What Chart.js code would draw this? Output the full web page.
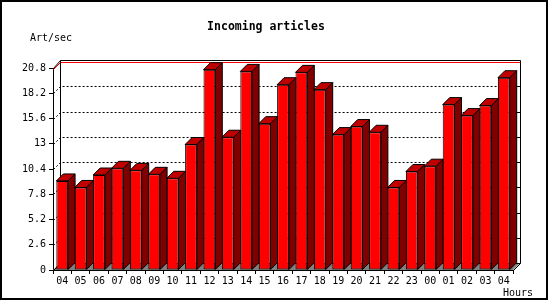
<!DOCTYPE html>
<html><head><meta charset="utf-8">
<script src="https://cdn.jsdelivr.net/npm/chart.js@4"></script>
<style>html,body{margin:0;padding:0;background:#fff;} canvas{display:block;background:#fff;}</style>
</head><body>
<canvas id="c" width="550" height="300"></canvas>
<script>
const hours = ['04','05','06','07','08','09','10','11','12','13','14','15','16','17','18','19','20','21','22','23','00','01','02','03','04'];
const artPerSec = [9.17, 8.5, 9.78, 10.47, 10.26, 9.85, 9.44, 12.92, 20.63, 13.67, 20.45, 15.07, 19.08, 20.35, 18.57, 13.94, 14.77, 14.18, 8.5, 10.14, 10.69, 17.03, 15.9, 16.93, 19.8];
const yTickValues = [0, 2.6, 5.2, 7.8, 10.4, 13, 15.6, 18.2, 20.8];
const yTickLabels = ['0', '2.6', '5.2', '7.8', '10.4', '13', '15.6', '18.2', '20.8'];
const chartTitle = 'Incoming articles';
const yAxisName = 'Art/sec';
const xAxisName = 'Hours';

const DEPTH = 7;
const MONO = "'DejaVu Sans Mono', 'Liberation Mono', monospace";

const bar3d = {
  id: 'bar3d',
  beforeDatasetsDraw(chart) {
    const ctx = chart.ctx, ca = chart.chartArea, ys = chart.scales.y;
    const L = Math.round(ca.left), R = Math.round(ca.right), B = Math.round(ca.bottom);
    const bl = L + DEPTH, br = R + DEPTH, bb = B - DEPTH;
    const topF = Math.round(ys.getPixelForValue(ys.max));
    const bt = topF - DEPTH - 1;
    ctx.save();
    // floor
    ctx.fillStyle = '#808080';
    ctx.beginPath(); ctx.moveTo(L, B); ctx.lineTo(R, B); ctx.lineTo(br, bb); ctx.lineTo(bl, bb); ctx.closePath(); ctx.fill();
    ctx.lineWidth = 1;
    // gridlines on back wall
    yTickValues.forEach((v) => {
      if (v === ys.min || v === ys.max) return;
      const yf = Math.round(ys.getPixelForValue(v));
      const yb = yf - DEPTH;
      ctx.strokeStyle = '#000';
      ctx.setLineDash([2, 2]);
      ctx.beginPath(); ctx.moveTo(L + 0.5, yf + 0.5); ctx.lineTo(bl + 0.5, yb + 0.5); ctx.lineTo(br - 3, yb + 0.5); ctx.stroke();
      ctx.setLineDash([]);
      ctx.beginPath(); ctx.moveTo(br - 4, yb + 0.5); ctx.lineTo(br, yb + 0.5); ctx.stroke();
    });
    // max line (red)
    ctx.strokeStyle = '#ff0000';
    ctx.beginPath(); ctx.moveTo(L + 0.5, topF + 1.5); ctx.lineTo(bl + 0.5, topF - DEPTH + 1.5); ctx.lineTo(br, topF - DEPTH + 1.5); ctx.stroke();
    // back frame
    ctx.strokeStyle = '#000';
    ctx.beginPath();
    ctx.moveTo(bl + 0.5, bb + 0.5); ctx.lineTo(bl + 0.5, bt + 0.5); ctx.lineTo(br + 0.5, bt + 0.5); ctx.lineTo(br + 0.5, bb + 0.5); ctx.lineTo(bl + 0.5, bb + 0.5);
    ctx.stroke();
    // depth diagonals
    ctx.beginPath();
    ctx.moveTo(L + 0.5, topF + 0.5); ctx.lineTo(bl + 0.5, bt + 0.5);
    ctx.moveTo(L + 0.5, B + 0.5); ctx.lineTo(bl + 0.5, bb + 0.5);
    ctx.moveTo(R + 0.5, B + 0.5); ctx.lineTo(br + 0.5, bb + 0.5);
    ctx.stroke();
    ctx.restore();
  },
  afterDatasetsDraw(chart) {
    const ctx = chart.ctx;
    const meta = chart.getDatasetMeta(0);
    ctx.save();
    ctx.lineWidth = 1;
    ctx.strokeStyle = '#000';
    meta.data.forEach((bar) => {
      const p = bar.getProps(['x', 'y', 'base', 'width'], true);
      const x1 = p.x - p.width / 2, x2 = p.x + p.width / 2;
      const y = p.y, b = p.base;
      // side face
      ctx.fillStyle = '#800000';
      ctx.beginPath();
      ctx.moveTo(x2, y); ctx.lineTo(x2 + DEPTH, y - DEPTH); ctx.lineTo(x2 + DEPTH, b - DEPTH); ctx.lineTo(x2, b); ctx.closePath();
      ctx.fill(); ctx.stroke();
      // top face
      ctx.fillStyle = '#c00000';
      ctx.beginPath();
      ctx.moveTo(x1, y); ctx.lineTo(x1 + DEPTH, y - DEPTH); ctx.lineTo(x2 + DEPTH, y - DEPTH); ctx.lineTo(x2, y); ctx.closePath();
      ctx.fill(); ctx.stroke();
    });
    ctx.restore();
  },
  afterDraw(chart) {
    const ctx = chart.ctx;
    ctx.save();
    ctx.fillStyle = '#000';
    ctx.font = '10px ' + MONO;
    ctx.textBaseline = 'alphabetic';
    ctx.textAlign = 'left';
    ctx.fillText(yAxisName, 30, 40.5);
    ctx.fillText(xAxisName, 503, 296);
    // image frame
    ctx.fillRect(0, 0, 548, 2);
    ctx.fillRect(0, 0, 2, 300);
    ctx.fillRect(546, 0, 2, 300);
    ctx.fillRect(0, 298, 548, 2);
    ctx.restore();
  }
};

Chart.defaults.font.family = MONO;
Chart.defaults.color = '#000';

new Chart(document.getElementById('c'), {
  type: 'bar',
  data: {
    labels: hours,
    datasets: [{
      data: artPerSec,
      backgroundColor: '#ff0000',
      borderColor: '#000000',
      borderWidth: 1,
      borderSkipped: false,
      barPercentage: 0.64,
      categoryPercentage: 1.0
    }]
  },
  options: {
    responsive: false,
    animation: false,
    devicePixelRatio: 1,
    layout: { padding: { left: 18.92, right: 37, top: 0, bottom: 12 } },
    plugins: {
      legend: { display: false },
      tooltip: { enabled: false },
      title: {
        display: true,
        text: chartTitle,
        color: '#000',
        font: { family: MONO, size: 11.5, weight: 'bold', lineHeight: 1.2 },
        padding: { top: 20.1, bottom: 34.1 }
      }
    },
    scales: {
      x: {
        offset: true,
        grid: { offset: true, drawOnChartArea: false, drawTicks: true, tickLength: 4, color: '#000' },
        border: { color: '#000', width: 1 },
        ticks: { font: { family: MONO, size: 10 }, color: '#000', padding: 1, maxRotation: 0, autoSkip: false }
      },
      y: {
        min: 0,
        max: 20.8,
        afterBuildTicks: (scale) => { scale.ticks = yTickValues.map(v => ({ value: v })); },
        grid: { drawOnChartArea: false, drawTicks: true, tickLength: 4, color: '#000' },
        border: { color: '#000', width: 1 },
        ticks: {
          font: { family: MONO, size: 10 }, color: '#000', padding: 3,
          callback: (value, index) => yTickLabels[index]
        }
      }
    }
  },
  plugins: [bar3d]
});
</script>
</body></html>
